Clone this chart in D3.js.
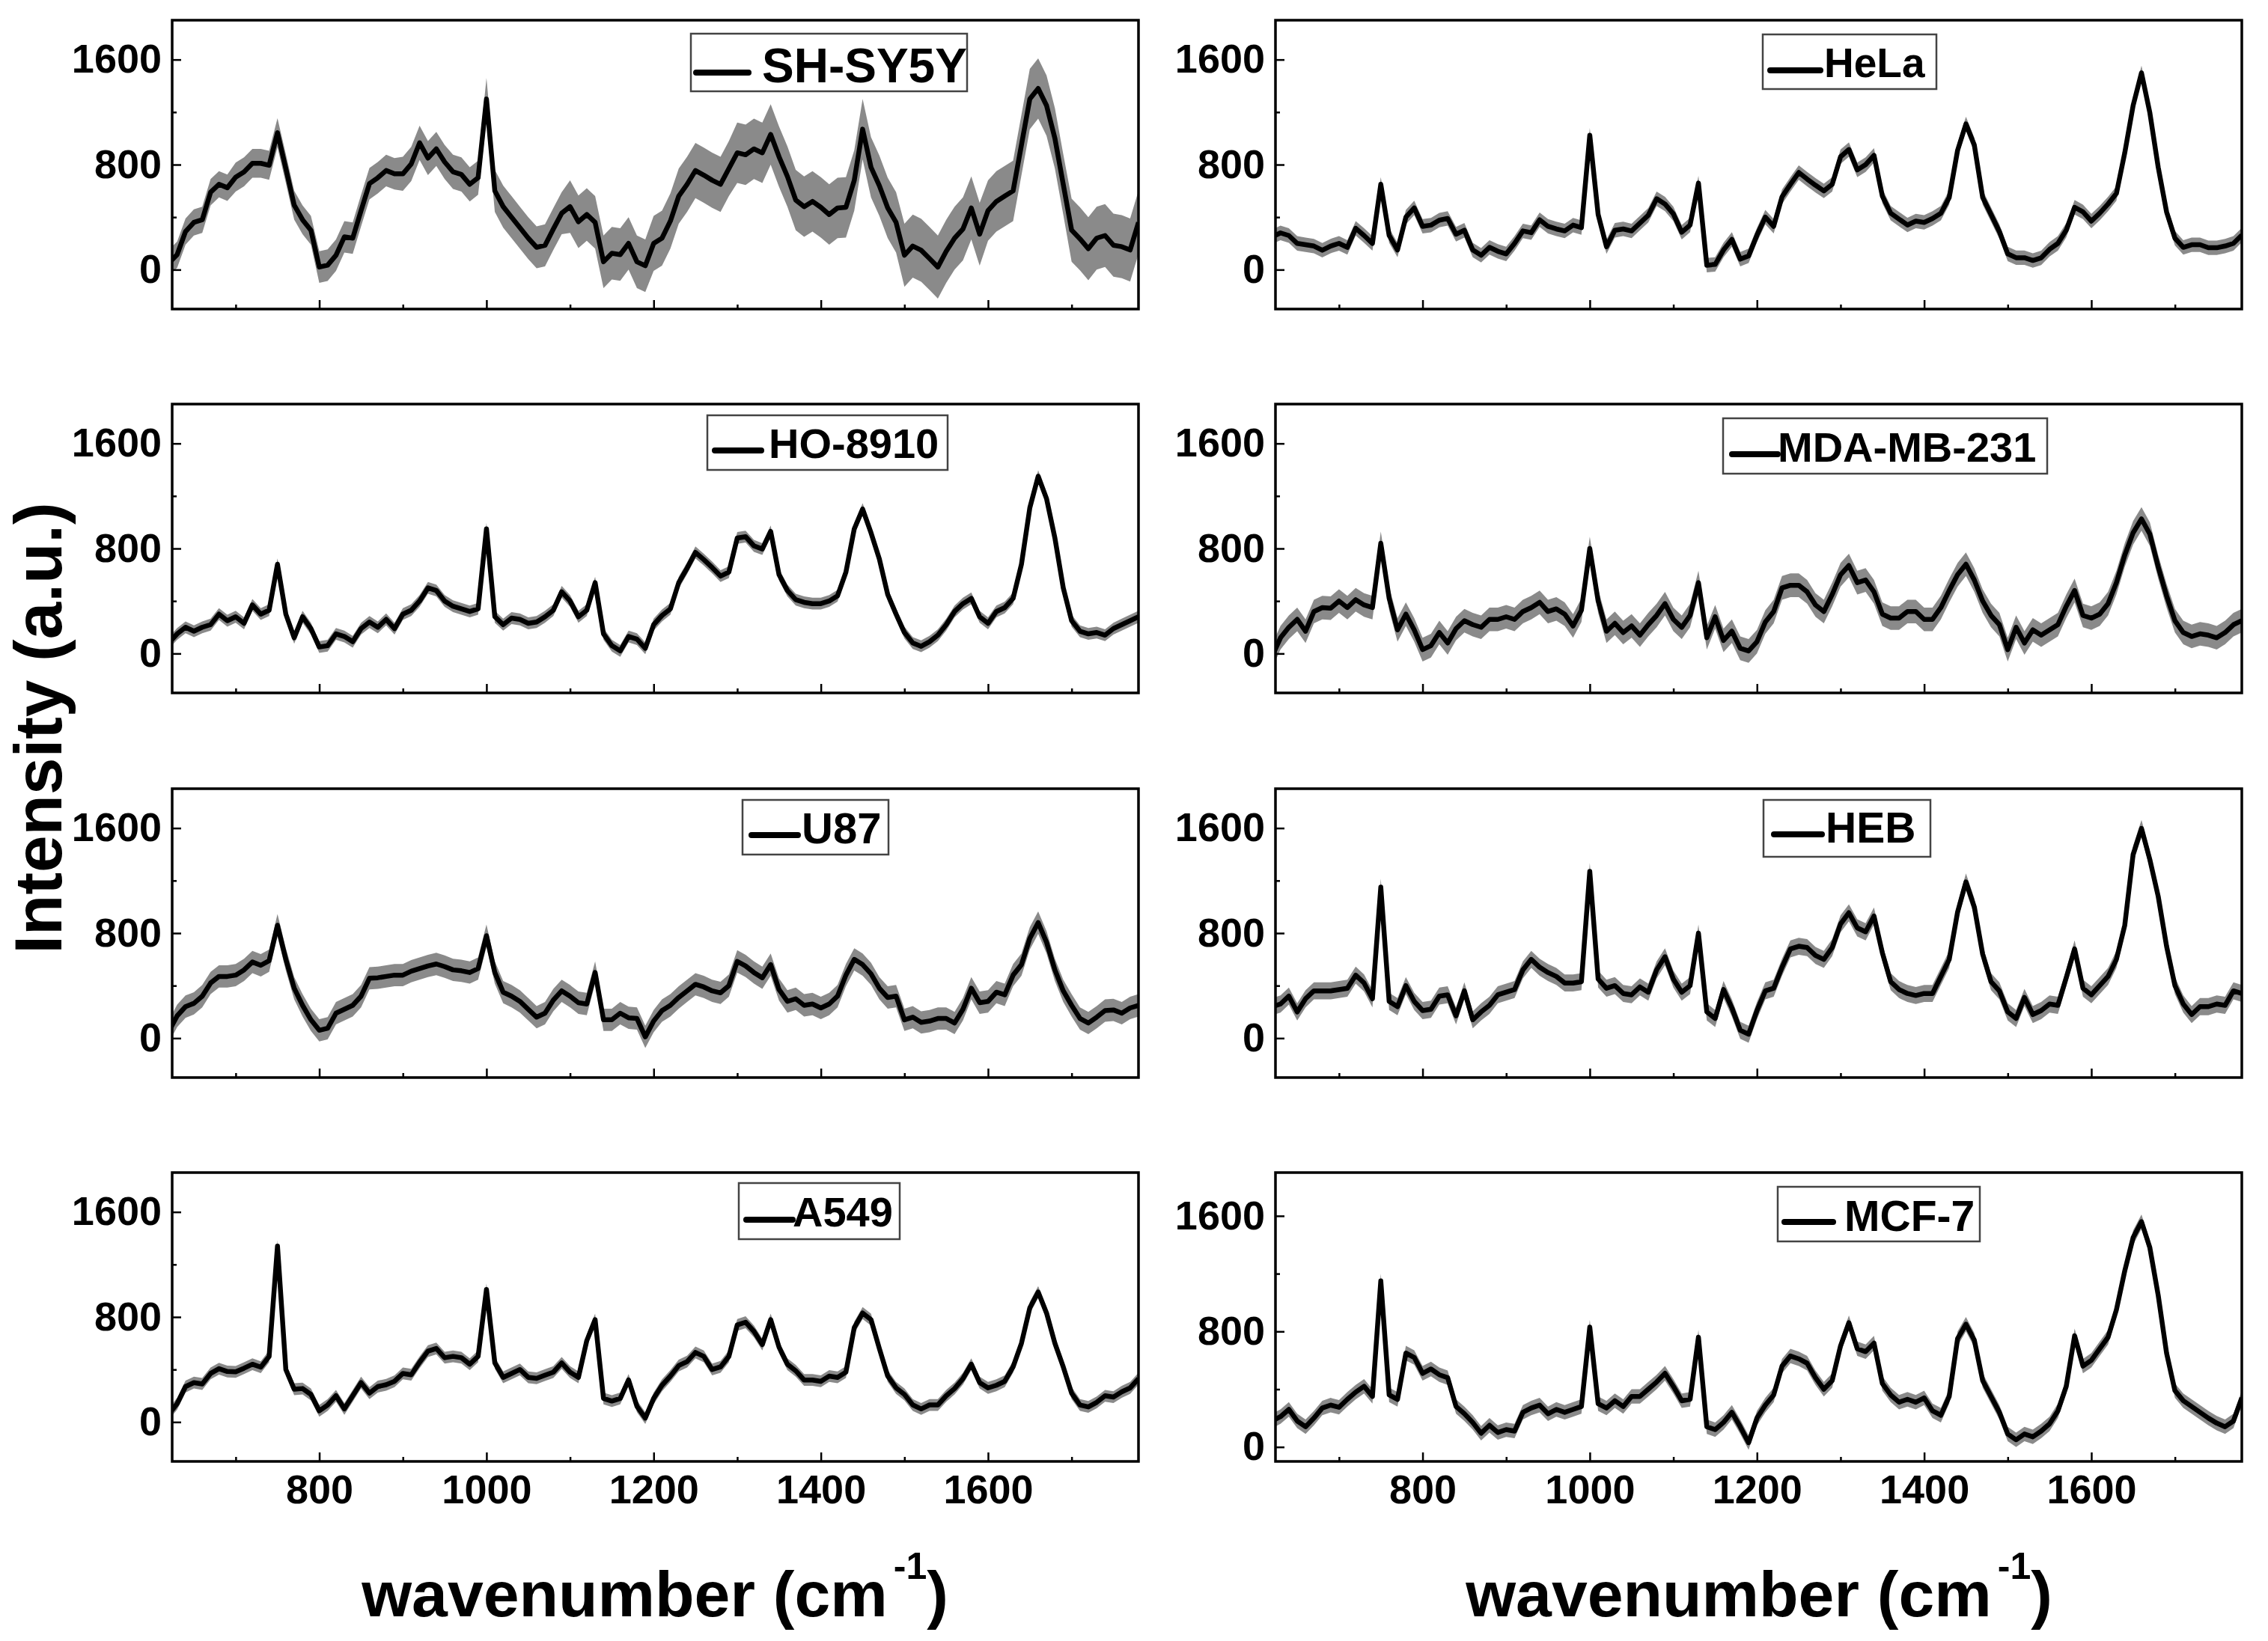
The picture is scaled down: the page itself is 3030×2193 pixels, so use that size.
<!DOCTYPE html>
<html><head><meta charset="utf-8">
<script src="https://cdn.jsdelivr.net/npm/d3@7"></script>
<style>body{margin:0;background:#fff}</style>
</head><body>
<script>
// ---------------- DATA ----------------
const wavenumbers = [620,630,640,650,660,670,680,690,
700,710,720,730,740,750,760,770,780,790,
800,810,820,830,840,850,860,870,880,890,
900,910,920,930,940,950,960,970,980,990,
1000,1010,1020,1030,1040,1050,1060,1070,1080,1090,
1100,1110,1120,1130,1140,1150,1160,1170,1180,1190,
1200,1210,1220,1230,1240,1250,1260,1270,1280,1290,
1300,1310,1320,1330,1340,1350,1360,1370,1380,1390,
1400,1410,1420,1430,1440,1450,1460,1470,1480,1490,
1500,1510,1520,1530,1540,1550,1560,1570,1580,1590,
1600,1610,1620,1630,1640,1650,1660,1670,1680,1690,
1700,1710,1720,1730,1740,1750,1760,1770,1780];

const cellLines = ["SH-SY5Y","HeLa","HO-8910","MDA-MB-231","U87","HEB","A549","MCF-7"];
const yTickValues = [0,800,1600];
const yMinorValues = [400,1200];
const xTickValues = [800,1000,1200,1400,1600];
const xMinorValues = [700,900,1100,1300,1500,1700];

const meanSHSY5Y = [50,115,290,360,380,590,650,624,
705,745,810,810,795,1043,770,491,380,300,
20,34,110,250,240,450,655,700,755,730,
730,805,966,850,920,820,745,725,650,700,
1300,600,480,400,320,240,170,185,310,430,
480,365,420,360,60,125,115,200,60,30,
200,240,370,560,650,755,720,681,650,770,
890,875,920,890,1030,860,710,530,480,520,
475,420,470,475,680,1070,780,640,470,360,
110,180,148,85,20,140,240,310,470,270,
450,520,560,600,950,1300,1380,1250,1000,650,
301,235,160,240,260,186,175,150,360];
const sdSHSY5Y = [100,100,100,100,100,100,100,100,
110,110,110,110,110,110,110,110,110,110,
120,120,120,120,120,120,120,120,120,120,
130,130,130,130,130,130,130,130,130,130,
160,160,160,160,160,160,160,160,160,160,
200,200,200,200,200,200,200,200,200,200,
210,210,210,210,210,210,210,210,210,210,
230,230,230,230,230,230,230,230,230,230,
230,230,230,230,230,230,230,230,230,230,
240,240,240,240,240,240,240,240,240,240,
230,230,230,230,230,230,230,230,230,230,
240,240,240,240,240,240,240,240,240];

const meanHeLa = [250,280,260,200,190,180,148,180,
200,170,315,260,200,650,260,150,400,470,
330,339,377,390,270,300,150,110,170,140,
120,200,295,282,380,330,310,295,339,320,
1024,420,175,300,310,295,355,415,540,500,
425,285,340,660,34,40,150,230,80,105,
263,400,330,555,650,740,690,643,600,650,
860,915,760,800,870,560,430,385,340,370,
360,390,430,550,909,1110,950,550,420,290,
120,91,91,70,90,155,200,301,475,440,
370,430,500,580,890,1250,1499,1195,780,440,
240,170,190,190,167,167,180,200,263];
const sdHeLa = 55;

const meanHO8910 = [80,150,200,170,200,220,300,250,
280,230,370,300,330,680,300,120,280,190,
50,60,150,130,90,190,240,200,260,190,
300,330,400,500,480,400,360,340,320,340,
950,280,220,270,260,230,240,280,330,470,
400,280,330,540,150,60,20,130,110,40,
220,290,340,540,650,770,715,655,590,620,
880,890,820,796,930,600,480,410,390,380,
380,400,440,620,950,1100,920,720,450,300,
160,80,55,90,140,220,320,380,420,280,
230,320,350,420,680,1110,1350,1180,880,500,
250,170,150,160,140,190,220,250,280];
const sdHO8910 = 45;

const meanMDAMB231 = [-20,120,200,260,170,320,350,345,
400,350,410,370,350,840,420,180,300,180,
30,60,160,80,190,250,220,200,260,260,
280,260,320,350,390,320,340,300,210,330,
800,400,170,230,160,210,140,220,290,380,
260,200,290,540,120,280,100,170,40,20,
90,240,320,500,520,520,470,370,320,450,
600,670,540,560,470,300,270,270,320,320,
260,260,350,480,600,680,560,400,290,220,
30,200,80,180,140,180,220,360,480,290,
270,300,380,540,750,920,1025,910,660,440,
250,160,130,150,140,120,160,220,250];
const sdMDAMB231 = 90;

const meanU87 = [50,170,240,265,320,420,470,470,
480,520,580,555,590,860,600,380,250,140,
60,75,190,220,250,320,456,460,470,480,
480,510,530,550,565,545,520,513,500,530,
780,500,350,320,280,220,160,190,290,360,
320,270,260,500,140,140,190,155,150,10,
130,210,250,310,360,410,390,360,345,400,
585,550,500,460,560,370,280,300,250,260,
230,260,320,480,600,560,490,380,310,320,
140,160,120,130,150,150,115,220,380,270,
280,350,330,480,560,760,880,730,520,360,
250,150,115,160,210,215,190,230,250];
const sdU87 = 85;

const meanHEB = [240,260,320,200,300,360,360,360,
370,380,480,420,300,1150,280,240,400,280,
210,220,320,330,170,360,140,200,250,330,
350,370,520,600,540,500,470,420,420,430,
1270,450,380,400,340,330,390,350,520,620,
450,350,400,800,200,150,370,230,60,30,
210,360,380,540,680,700,690,630,600,690,
870,955,840,810,930,650,430,370,340,325,
340,340,470,600,960,1190,1000,640,430,360,
200,150,310,180,210,260,250,460,680,380,
330,400,470,600,860,1400,1597,1360,1080,700,
400,260,180,240,240,260,250,360,340];
const sdHEB = 65;

const meanA549 = [60,140,270,300,290,370,406,385,
382,410,440,418,500,1340,400,250,255,210,
85,130,200,100,200,300,220,270,284,310,
370,360,455,540,560,490,500,490,440,500,
1010,450,340,370,400,340,333,357,380,450,
380,340,620,780,180,160,180,320,120,30,
180,280,350,430,460,530,500,400,420,500,
740,760,690,590,780,570,440,390,320,320,
310,350,340,380,720,830,780,560,350,260,
210,130,100,130,130,200,255,330,440,300,
260,280,310,420,600,870,990,830,600,420,
220,130,115,150,200,190,230,260,330];
const sdA549 = 45;

const meanMCF7 = [180,210,260,180,140,200,270,290,
275,330,380,420,350,1150,360,330,650,620,
510,540,500,480,280,230,170,95,150,100,
120,110,240,270,290,230,260,240,260,280,
830,300,270,320,280,350,350,400,450,510,
420,320,330,760,140,120,170,240,140,30,
200,290,360,560,630,610,580,480,400,460,
700,860,680,660,719,440,360,310,330,310,
340,250,220,350,750,850,740,460,350,240,
90,50,90,70,110,160,250,420,770,560,
600,680,760,950,1220,1450,1560,1380,1050,650,
390,320,280,240,200,165,140,180,340];
const sdMCF7 = 50;

const seriesMeans = [meanSHSY5Y, meanHeLa, meanHO8910, meanMDAMB231, meanU87, meanHEB, meanA549, meanMCF7];
const seriesSD = [sdSHSY5Y, sdHeLa, sdHO8910, sdMDAMB231, sdU87, sdHEB, sdA549, sdMCF7];

// ---------------- LAYOUT ----------------
const W = 3030, H = 2193;
const colX = [230, 1704], rowY = [27, 540, 1054, 1567];
const PW = 1291, PH = 386;
const xDomain = [624, 1780];
const panelCfg = [
  {col:0,row:0,yDomain:[-300,1900]},
  {col:1,row:0,yDomain:[-300,1900]},
  {col:0,row:1,yDomain:[-300,1900]},
  {col:1,row:1,yDomain:[-300,1900]},
  {col:0,row:2,yDomain:[-300,1900]},
  {col:1,row:2,yDomain:[-300,1900]},
  {col:0,row:3,yDomain:[-300,1900]},
  {col:1,row:3,yDomain:[-100,1900]}
];
// legend geometry relative to panel origin
const legendLayout = [
  {bx:693,by:18,bw:369,bh:77,lx1:700,lx2:770,ly:70,tx:788,ty:83,fs:64},
  {bx:651,by:19,bw:232,bh:73,lx1:661,lx2:728,ly:67,tx:733,ty:76,fs:55},
  {bx:715,by:15,bw:321,bh:73,lx1:725,lx2:787,ly:62,tx:797,ty:72,fs:56},
  {bx:598,by:19,bw:433,bh:74,lx1:610,lx2:671,ly:67,tx:671,ty:77,fs:56},
  {bx:762,by:15,bw:195,bh:73,lx1:774,lx2:836,ly:62,tx:841,ty:73,fs:58},
  {bx:652,by:15,bw:223,bh:76,lx1:666,lx2:730,ly:61,tx:735,ty:72,fs:57},
  {bx:757,by:14,bw:215,bh:75,lx1:767,lx2:829,ly:63,tx:829,ty:72,fs:56},
  {bx:671,by:19,bw:270,bh:73,lx1:680,lx2:745,ly:66,tx:760,ty:78,fs:57}
];

const FONT = "'Liberation Sans', Arial, Helvetica, sans-serif";
const svg = d3.select("body").append("svg")
  .attr("width", W).attr("height", H)
  .style("font-family", FONT).style("font-weight", "bold");
svg.append("rect").attr("width", W).attr("height", H).attr("fill", "#fff");

const x = d3.scaleLinear().domain(xDomain).range([0, PW]);

panelCfg.forEach((p, i) => {
  const g = svg.append("g").attr("transform", `translate(${colX[p.col]},${rowY[p.row]})`);
  const y = d3.scaleLinear().domain(p.yDomain).range([PH, 0]);
  const clipId = "clip" + i;
  g.append("clipPath").attr("id", clipId).append("rect").attr("width", PW).attr("height", PH);

  const means = seriesMeans[i], sd = seriesSD[i];
  const data = wavenumbers.map((w, k) => ({w, v: means[k], s: Array.isArray(sd) ? sd[k] : sd}));

  const plot = g.append("g").attr("clip-path", `url(#${clipId})`);
  plot.append("path").datum(data)
    .attr("fill", "#8a8a8a")
    .attr("d", d3.area().x(d => x(d.w)).y0(d => y(d.v - d.s)).y1(d => y(d.v + d.s)));
  plot.append("path").datum(data)
    .attr("fill", "none").attr("stroke", "#000").attr("stroke-width", 6.5)
    .attr("stroke-linejoin", "round")
    .attr("d", d3.line().x(d => x(d.w)).y(d => y(d.v)));

  // frame
  g.append("rect").attr("width", PW).attr("height", PH)
    .attr("fill", "none").attr("stroke", "#000").attr("stroke-width", 3.5);

  const bottomRow = p.row === 3;
  const xAx = g.append("g").attr("transform", `translate(0,${PH})`)
    .call(d3.axisBottom(x).tickValues(xTickValues).tickSize(-12).tickPadding(18)
      .tickFormat(bottomRow ? d3.format("d") : () => ""));
  const xMin = g.append("g").attr("transform", `translate(0,${PH})`)
    .call(d3.axisBottom(x).tickValues(xMinorValues).tickSize(-6).tickFormat(() => ""));
  const yAx = g.append("g")
    .call(d3.axisLeft(y).tickValues(yTickValues).tickSize(-12).tickPadding(14).tickFormat(d3.format("d")));
  const yMin = g.append("g")
    .call(d3.axisLeft(y).tickValues(yMinorValues).tickSize(-6).tickFormat(() => ""));
  [xAx, xMin, yAx, yMin].forEach(a => {
    a.select(".domain").remove();
    a.selectAll("line").attr("stroke", "#000").attr("stroke-width", 2.5);
    a.attr("font-family", FONT).attr("font-size", 54).attr("font-weight", "bold");
    a.selectAll("text").attr("fill", "#000");
  });

  // legend
  const L = legendLayout[i];
  g.append("rect").attr("x", L.bx).attr("y", L.by).attr("width", L.bw).attr("height", L.bh)
    .attr("fill", "#fff").attr("stroke", "#444").attr("stroke-width", 2.5);
  g.append("line").attr("x1", L.lx1).attr("x2", L.lx2).attr("y1", L.ly).attr("y2", L.ly)
    .attr("stroke", "#000").attr("stroke-width", 8).attr("stroke-linecap", "round");
  g.append("text").attr("x", L.tx).attr("y", L.ty).attr("font-size", L.fs)
    .attr("fill", "#000").text(cellLines[i]);
});

// axis titles
svg.append("text")
  .attr("transform", "translate(82,973) rotate(-90)")
  .attr("text-anchor", "middle").attr("font-size", 89).attr("fill", "#000")
  .text("Intensity (a.u.)");

[875, 2350].forEach(cx => {
  const t = svg.append("text").attr("x", cx).attr("y", 2160)
    .attr("text-anchor", "middle").attr("font-size", 86).attr("fill", "#000");
  t.append("tspan").text("wavenumber (cm");
  t.append("tspan").attr("font-size", 50).attr("dx", 8).attr("dy", -50).text("-1");
  t.append("tspan").attr("font-size", 86).attr("dy", 50).text(")");
});
</script>
</body></html>
